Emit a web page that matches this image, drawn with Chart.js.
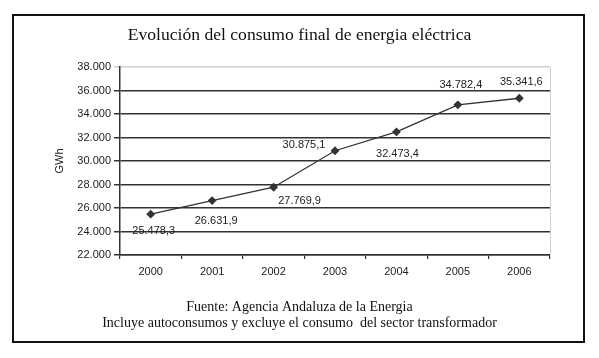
<!DOCTYPE html>
<html>
<head>
<meta charset="utf-8">
<script src="https://cdn.jsdelivr.net/npm/chart.js@4.4.0/dist/chart.umd.min.js"></script>
<style>
  html, body { margin: 0; padding: 0; background: #fff; }
  #wrap { position: relative; width: 599px; height: 358px; }
  #frame { position: absolute; left: 12px; top: 14px; width: 569px; height: 325px; border: 2px solid #111; pointer-events: none; }
  canvas { display: block; }
</style>
</head>
<body>
<div id="wrap">
  <canvas id="c" width="599" height="358"></canvas>
  <div id="frame"></div>
</div>
<script>
const categories = ['2000', '2001', '2002', '2003', '2004', '2005', '2006'];
const consumo = [25478.3, 26631.9, 27769.9, 30875.1, 32473.4, 34782.4, 35341.6];
const valueLabels = ['25.478,3', '26.631,9', '27.769,9', '30.875,1', '32.473,4', '34.782,4', '35.341,6'];
const titleText = 'Evolución del consumo final de energia eléctrica';
const footerLines = ['Fuente: Agencia Andaluza de la Energia', 'Incluye autoconsumos y excluye el consumo  del sector transformador'];
const yAxisTitle = 'GWh';
const yMin = 22000, yMax = 38000, yStep = 2000;

// label offsets relative to each point (style)
const labelOffsets = [[3, 17], [4, 20], [26, 14], [-31, -6], [1, 22], [3, -20], [2, -16]];

function fmtThousands(v) {
  const k = Math.floor(v / 1000);
  const r = Math.round(v % 1000);
  return k + '.' + String(r).padStart(3, '0');
}

const pointLabels = {
  id: 'pointLabels',
  afterDatasetsDraw(chart) {
    const ctx = chart.ctx;
    const meta = chart.getDatasetMeta(0);
    ctx.save();
    ctx.font = '11px "Liberation Sans", Arial, sans-serif';
    ctx.fillStyle = '#222';
    ctx.textAlign = 'center';
    ctx.textBaseline = 'middle';
    meta.data.forEach((pt, i) => {
      const o = labelOffsets[i];
      ctx.fillText(valueLabels[i], pt.x + o[0], pt.y + o[1]);
    });
    ctx.restore();
  }
};

const plotBorder = {
  id: 'plotBorder',
  beforeDatasetsDraw(chart) {
    const a = chart.chartArea;
    const ctx = chart.ctx;
    ctx.save();
    ctx.strokeStyle = '#d0d0d0';
    ctx.lineWidth = 1;
    ctx.beginPath();
    ctx.moveTo(Math.round(a.right) + 0.5, a.top);
    ctx.lineTo(Math.round(a.right) + 0.5, a.bottom);
    ctx.stroke();
    ctx.restore();
  }
};

new Chart(document.getElementById('c'), {
  type: 'line',
  data: {
    labels: categories,
    datasets: [{
      data: consumo,
      borderColor: '#333',
      borderWidth: 1.3,
      backgroundColor: '#333',
      pointStyle: 'rectRot',
      pointRadius: 3.5,
      pointBackgroundColor: '#333',
      pointBorderColor: '#333',
      tension: 0,
      fill: false
    }]
  },
  options: {
    responsive: false,
    animation: false,
    devicePixelRatio: 1,
    layout: { padding: { left: 49, right: 49, top: 0, bottom: 0 } },
    plugins: {
      legend: { display: false },
      tooltip: { enabled: false },
      title: {
        display: true,
        text: titleText,
        color: '#111',
        font: { family: '"Liberation Serif", "Times New Roman", serif', size: 17.6, weight: 'normal', lineHeight: 1.2 },
        padding: { top: 25, bottom: 20.9 }
      },
      subtitle: {
        display: true,
        position: 'bottom',
        text: footerLines,
        color: '#111',
        font: { family: '"Liberation Serif", "Times New Roman", serif', size: 14, weight: 'normal', lineHeight: 1.143 },
        padding: { top: 12, bottom: 27 }
      }
    },
    scales: {
      x: {
        type: 'category',
        offset: true,
        afterFit(s) { s.height = 32; },
        grid: { display: true, drawOnChartArea: false, offset: true, tickLength: 4, color: '#333', lineWidth: 1.2 },
        border: { display: true, color: '#333', width: 1.5 },
        ticks: { color: '#222', padding: 6, font: { family: '"Liberation Sans", Arial, sans-serif', size: 11 }, maxRotation: 0 }
      },
      y: {
        min: yMin,
        max: yMax,
        afterFit(s) { s.width = 71; },
        ticks: {
          stepSize: yStep,
          color: '#222',
          padding: 3,
          font: { family: '"Liberation Sans", Arial, sans-serif', size: 11 },
          callback: (v) => fmtThousands(v)
        },
        grid: {
          tickLength: 6,
          color: (c) => (c.tick && c.tick.value === yMax ? '#d0d0d0' : '#333'),
          lineWidth: 1.5
        },
        border: { display: true, color: '#333', width: 1.5 },
        title: {
          display: true,
          text: yAxisTitle,
          color: '#222',
          font: { family: '"Liberation Sans", Arial, sans-serif', size: 11 },
          padding: { top: 4.5, bottom: 4 }
        }
      }
    }
  },
  plugins: [plotBorder, pointLabels]
});
</script>
</body>
</html>
